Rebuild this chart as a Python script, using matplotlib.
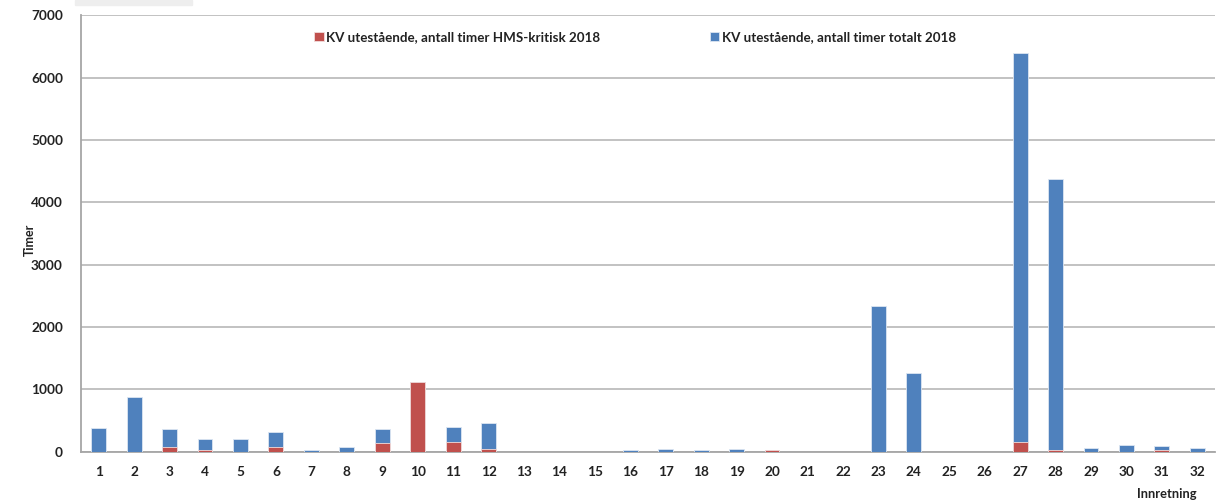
import matplotlib
matplotlib.use("Agg")
import matplotlib.pyplot as plt
from matplotlib.patches import Rectangle

# Maintenance backlog (hours) per installation
innretning = [str(i) for i in range(1, 33)]
timer_totalt = [380, 870, 360, 210, 210, 320, 20, 70, 360, 1120, 400, 455,
                0, 0, 0, 25, 40, 25, 40, 25, 0, 0, 2340, 1270,
                0, 0, 6390, 4380, 55, 115, 90, 55]
timer_hms = [0, 0, 70, 20, 0, 70, 0, 0, 135, 1120, 155, 40,
             0, 0, 0, 0, 0, 0, 0, 25, 0, 0, 0, 0,
             0, 0, 150, 35, 0, 0, 20, 0]

label_hms = "KV utestående, antall timer HMS-kritisk 2018"
label_tot = "KV utestående, antall timer totalt 2018"
yticks = [0, 1000, 2000, 3000, 4000, 5000, 6000, 7000]

BLUE = "#4F81BD"
RED = "#C0504D"
GRID = "#BDBDBD"

plt.rcParams["font.family"] = ["Lato", "DejaVu Sans"]
plt.rcParams["font.weight"] = "bold"

fig = plt.figure(figsize=(12.19, 5.03), dpi=100)
ax = fig.add_axes([81 / 1219, 1 - 451.7 / 503, (1215 - 81) / 1219, (451.7 - 15.3) / 503])

x = list(range(1, len(innretning) + 1))
w = 0.42
ax.bar(x, timer_totalt, width=w, color=BLUE, edgecolor="#DCE6F2", linewidth=0.6,
       label=label_tot, zorder=3)
ax.bar(x, timer_hms, width=w, color=RED, edgecolor="#F2DCDB", linewidth=0.6,
       label=label_hms, zorder=4)

ax.set_xlim(0.5, 32.5)
ax.set_ylim(0, 7000)
ax.set_yticks(yticks)
ax.set_xticks(x)
ax.set_xticklabels(innretning)
ax.yaxis.grid(True, color=GRID, linewidth=1.3)
ax.set_axisbelow(True)
for s in ("top", "right"):
    ax.spines[s].set_visible(False)
for s in ("left", "bottom"):
    ax.spines[s].set_color("#A6A6A6")
    ax.spines[s].set_linewidth(1.3)
ax.tick_params(axis="both", length=0, labelsize=9.8, colors="#222222")
ax.tick_params(axis="y", pad=13)
ax.tick_params(axis="x", pad=10)
for t in ax.get_xticklabels() + ax.get_yticklabels():
    t.set_fontweight("bold")

fig.text(30 / 1219, 1 - 240 / 503, "Timer", rotation=90, ha="center", va="center",
         fontsize=9, fontweight="bold", color="#222222")
fig.text(1197 / 1219, 1 - 494 / 503, "Innretning", ha="right", va="center",
         fontsize=9.3, fontweight="bold", color="#222222")

handles, labels = ax.get_legend_handles_labels()
leg = ax.legend(handles[::-1], labels[::-1], ncol=2, loc="center",
                bbox_to_anchor=((635 - 81) / (1215 - 81), (451.7 - 37) / (451.7 - 15.3)),
                frameon=False, fontsize=9.6, handlelength=0.72, handleheight=0.72,
                handletextpad=0.2, columnspacing=8.2)
for t in leg.get_texts():
    t.set_fontweight("bold")
    t.set_color("#222222")

fig.patches.append(Rectangle((75 / 1219, 1 - 5 / 503), 117 / 1219, 5 / 503,
                             transform=fig.transFigure, color="#EEEEEE", zorder=0))

fig.savefig("out.png", dpi=100)
